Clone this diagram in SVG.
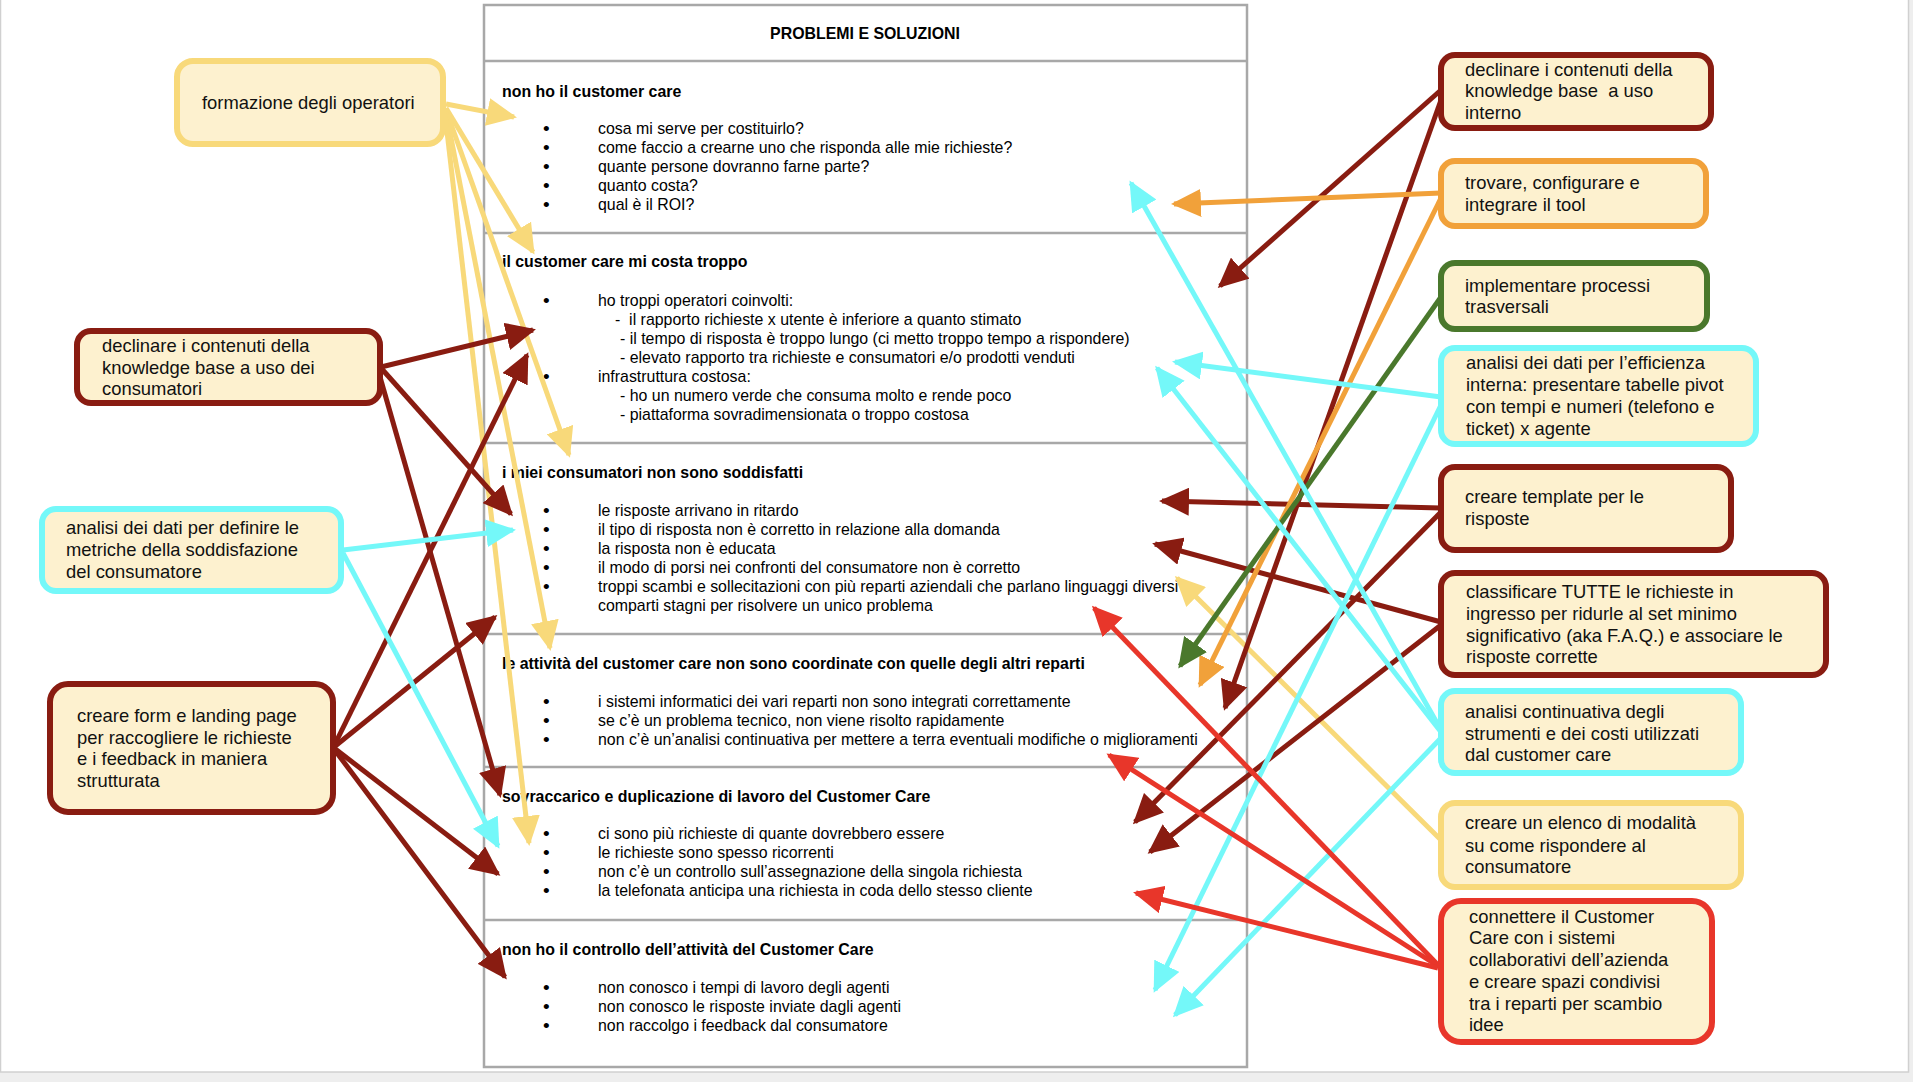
<svg xmlns="http://www.w3.org/2000/svg" width="1913" height="1082" viewBox="0 0 1913 1082">
<style>
.t{font-family:"Liberation Sans",Arial,Helvetica,sans-serif;font-size:15.9px;fill:#000}
.h{font-weight:bold}
.b{font-family:"Liberation Sans",Arial,Helvetica,sans-serif;font-size:19px;fill:#000}
.bt{font-family:"Liberation Sans",Arial,Helvetica,sans-serif;font-size:18.4px;fill:#111}
.box{fill:#fdf1cf;stroke-width:6}
.c{fill:none;stroke-width:5;stroke-linecap:butt}
.y{stroke:#f8d97a;marker-end:url(#mY)}
.dr{stroke:#891c11;marker-end:url(#mDR)}
.cy{stroke:#74f8f9;marker-end:url(#mC)}
.or{stroke:#f1a13a;marker-end:url(#mO)}
.gr{stroke:#4a782c;marker-end:url(#mG)}
.rd{stroke:#e8362a;marker-end:url(#mR)}
.div{stroke:#a8a8a8;stroke-width:2.5}
</style>
<defs>
<marker id="mY" viewBox="0 0 30 28" refX="27" refY="14" markerWidth="30" markerHeight="28" markerUnits="userSpaceOnUse" orient="auto"><path d="M0,0L30,14L0,28z" fill="#f8d97a"/></marker>
<marker id="mDR" viewBox="0 0 30 28" refX="27" refY="14" markerWidth="30" markerHeight="28" markerUnits="userSpaceOnUse" orient="auto"><path d="M0,0L30,14L0,28z" fill="#891c11"/></marker>
<marker id="mC" viewBox="0 0 30 28" refX="27" refY="14" markerWidth="30" markerHeight="28" markerUnits="userSpaceOnUse" orient="auto"><path d="M0,0L30,14L0,28z" fill="#74f8f9"/></marker>
<marker id="mO" viewBox="0 0 30 28" refX="27" refY="14" markerWidth="30" markerHeight="28" markerUnits="userSpaceOnUse" orient="auto"><path d="M0,0L30,14L0,28z" fill="#f1a13a"/></marker>
<marker id="mG" viewBox="0 0 30 28" refX="27" refY="14" markerWidth="30" markerHeight="28" markerUnits="userSpaceOnUse" orient="auto"><path d="M0,0L30,14L0,28z" fill="#4a782c"/></marker>
<marker id="mR" viewBox="0 0 30 28" refX="27" refY="14" markerWidth="30" markerHeight="28" markerUnits="userSpaceOnUse" orient="auto"><path d="M0,0L30,14L0,28z" fill="#e8362a"/></marker>
</defs>

<rect width="1913" height="1082" fill="#eeeeee"/>
<rect x="0.5" y="-2" width="1908" height="1074" fill="#ffffff" stroke="#d0d0d0" stroke-width="1.5"/>

<g id="table">
<rect x="484" y="5" width="763" height="1062" fill="#ffffff" stroke="#a8a8a8" stroke-width="2.5"/>
<line class="div" x1="484" y1="61" x2="1247" y2="61"/>
<line class="div" x1="484" y1="233" x2="1247" y2="233"/>
<line class="div" x1="484" y1="443" x2="1247" y2="443"/>
<line class="div" x1="484" y1="634" x2="1247" y2="634"/>
<line class="div" x1="484" y1="767" x2="1247" y2="767"/>
<line class="div" x1="484" y1="920" x2="1247" y2="920"/>
<text class="t h" x="865" y="39" text-anchor="middle">PROBLEMI E SOLUZIONI</text>

<text class="t h" x="502" y="97">non ho il customer care</text>
<text class="b" x="543" y="135">•</text><text class="t" x="598" y="134">cosa mi serve per costituirlo?</text>
<text class="b" x="543" y="154">•</text><text class="t" x="598" y="153">come faccio a crearne uno che risponda alle mie richieste?</text>
<text class="b" x="543" y="173">•</text><text class="t" x="598" y="172">quante persone dovranno farne parte?</text>
<text class="b" x="543" y="192">•</text><text class="t" x="598" y="191">quanto costa?</text>
<text class="b" x="543" y="211">•</text><text class="t" x="598" y="210">qual è il ROI?</text>

<text class="t h" x="502" y="267">il customer care mi costa troppo</text>
<text class="b" x="543" y="307">•</text><text class="t" x="598" y="306">ho troppi operatori coinvolti:</text>
<text class="t" x="615" y="325" xml:space="preserve">-  il rapporto richieste x utente è inferiore a quanto stimato</text>
<text class="t" x="620" y="344">- il tempo di risposta è troppo lungo (ci metto troppo tempo a rispondere)</text>
<text class="t" x="620" y="363">- elevato rapporto tra richieste e consumatori e/o prodotti venduti</text>
<text class="b" x="543" y="383">•</text><text class="t" x="598" y="382">infrastruttura costosa:</text>
<text class="t" x="620" y="401">- ho un numero verde che consuma molto e rende poco</text>
<text class="t" x="620" y="420">- piattaforma sovradimensionata o troppo costosa</text>

<text class="t h" x="502" y="478">i miei consumatori non sono soddisfatti</text>
<text class="b" x="543" y="517">•</text><text class="t" x="598" y="516">le risposte arrivano in ritardo</text>
<text class="b" x="543" y="536">•</text><text class="t" x="598" y="535">il tipo di risposta non è corretto in relazione alla domanda</text>
<text class="b" x="543" y="555">•</text><text class="t" x="598" y="554">la risposta non è educata</text>
<text class="b" x="543" y="574">•</text><text class="t" x="598" y="573">il modo di porsi nei confronti del consumatore non è corretto</text>
<text class="b" x="543" y="593">•</text><text class="t" x="598" y="592">troppi scambi e sollecitazioni con più reparti aziendali che parlano linguaggi diversi</text>
<text class="t" x="598" y="611">comparti stagni per risolvere un unico problema</text>

<text class="t h" x="502" y="669">le attività del customer care non sono coordinate con quelle degli altri reparti</text>
<text class="b" x="543" y="708">•</text><text class="t" x="598" y="707">i sistemi informatici dei vari reparti non sono integrati correttamente</text>
<text class="b" x="543" y="727">•</text><text class="t" x="598" y="726">se c’è un problema tecnico, non viene risolto rapidamente</text>
<text class="b" x="543" y="746">•</text><text class="t" x="598" y="745">non c’è un’analisi continuativa per mettere a terra eventuali modifiche o miglioramenti</text>

<text class="t h" x="502" y="802">sovraccarico e duplicazione di lavoro del Customer Care</text>
<text class="b" x="543" y="840">•</text><text class="t" x="598" y="839">ci sono più richieste di quante dovrebbero essere</text>
<text class="b" x="543" y="859">•</text><text class="t" x="598" y="858">le richieste sono spesso ricorrenti</text>
<text class="b" x="543" y="878">•</text><text class="t" x="598" y="877">non c’è un controllo sull’assegnazione della singola richiesta</text>
<text class="b" x="543" y="897">•</text><text class="t" x="598" y="896">la telefonata anticipa una richiesta in coda dello stesso cliente</text>

<text class="t h" x="502" y="955">non ho il controllo dell’attività del Customer Care</text>
<text class="b" x="543" y="994">•</text><text class="t" x="598" y="993">non conosco i tempi di lavoro degli agenti</text>
<text class="b" x="543" y="1013">•</text><text class="t" x="598" y="1012">non conosco le risposte inviate dagli agenti</text>
<text class="b" x="543" y="1032">•</text><text class="t" x="598" y="1031">non raccolgo i feedback dal consumatore</text>
</g>

<g id="connectors">
<line class="c y" x1="446" y1="104" x2="514" y2="117"/>
<line class="c y" x1="446" y1="108" x2="533" y2="252"/>
<line class="c y" x1="446" y1="110" x2="569" y2="455"/>
<line class="c y" x1="446" y1="112" x2="550" y2="648"/>
<line class="c y" x1="445" y1="114" x2="529" y2="843"/>
<line class="c y" x1="1441" y1="840" x2="1177" y2="578"/>

<line class="c dr" x1="381" y1="367" x2="533" y2="330"/>
<line class="c dr" x1="381" y1="368" x2="511" y2="514"/>
<line class="c dr" x1="378" y1="370" x2="500" y2="795"/>
<line class="c dr" x1="334" y1="746" x2="527" y2="355"/>
<line class="c dr" x1="334" y1="747" x2="495" y2="617"/>
<line class="c dr" x1="334" y1="748" x2="498" y2="874"/>
<line class="c dr" x1="334" y1="749" x2="505" y2="977"/>
<line class="c dr" x1="1441" y1="90" x2="1220" y2="286"/>
<line class="c dr" x1="1441" y1="100" x2="1225" y2="708"/>
<line class="c dr" x1="1441" y1="508" x2="1162" y2="501"/>
<line class="c dr" x1="1441" y1="512" x2="1135" y2="822"/>
<line class="c dr" x1="1441" y1="622" x2="1155" y2="544"/>
<line class="c dr" x1="1441" y1="625" x2="1150" y2="852"/>

<line class="c or" x1="1441" y1="193" x2="1174" y2="204"/>
<line class="c or" x1="1441" y1="198" x2="1200" y2="685"/>

<line class="c gr" x1="1441" y1="297" x2="1180" y2="666"/>

<line class="c cy" x1="343" y1="550" x2="513" y2="530"/>
<line class="c cy" x1="343" y1="553" x2="498" y2="846"/>
<line class="c cy" x1="1441" y1="397" x2="1175" y2="362"/>
<line class="c cy" x1="1441" y1="405" x2="1155" y2="990"/>
<line class="c cy" x1="1441" y1="730" x2="1131" y2="183"/>
<line class="c cy" x1="1441" y1="732" x2="1157" y2="368"/>
<line class="c cy" x1="1441" y1="738" x2="1175" y2="1015"/>

<line class="c rd" x1="1438" y1="965" x2="1094" y2="608"/>
<line class="c rd" x1="1438" y1="966" x2="1109" y2="755"/>
<line class="c rd" x1="1438" y1="968" x2="1136" y2="893"/>
</g>

<g id="n-formazione">
<rect class="box" x="177" y="61" width="266" height="83" rx="16" stroke="#f8d97a"/>
<text class="bt" x="202" y="109">formazione degli operatori</text>
</g>
<g id="n-kb-consumatori">
<rect class="box" x="77" y="331" width="303" height="72" rx="14" stroke="#891c11"/>
<text class="bt" x="102" y="352">declinare i contenuti della</text>
<text class="bt" x="102" y="373.5">knowledge base a uso dei</text>
<text class="bt" x="102" y="395">consumatori</text>
</g>
<g id="n-metriche">
<rect class="box" x="42" y="509" width="299" height="82" rx="14" stroke="#74f8f9"/>
<text class="bt" x="66" y="534">analisi dei dati per definire le</text>
<text class="bt" x="66" y="556">metriche della soddisfazione</text>
<text class="bt" x="66" y="578">del consumatore</text>
</g>
<g id="n-form">
<rect class="box" x="50" y="684" width="283" height="128" rx="18" stroke="#891c11"/>
<text class="bt" x="77" y="722">creare form e landing page</text>
<text class="bt" x="77" y="744">per raccogliere le richieste</text>
<text class="bt" x="77" y="765">e i feedback in maniera</text>
<text class="bt" x="77" y="787">strutturata</text>
</g>

<g id="n-kb-interno">
<rect class="box" x="1441" y="55" width="270" height="73" rx="14" stroke="#891c11"/>
<text class="bt" x="1465" y="76">declinare i contenuti della</text>
<text class="bt" x="1465" y="97" xml:space="preserve">knowledge base  a uso</text>
<text class="bt" x="1465" y="119">interno</text>
</g>
<g id="n-tool">
<rect class="box" x="1441" y="161" width="265" height="65" rx="14" stroke="#f1a13a"/>
<text class="bt" x="1465" y="189">trovare, configurare e</text>
<text class="bt" x="1465" y="211">integrare il tool</text>
</g>
<g id="n-processi">
<rect class="box" x="1441" y="263" width="266" height="66" rx="14" stroke="#4a782c"/>
<text class="bt" x="1465" y="292">implementare processi</text>
<text class="bt" x="1465" y="313">trasversali</text>
</g>
<g id="n-efficienza">
<rect class="box" x="1441" y="348" width="315" height="96" rx="14" stroke="#74f8f9"/>
<text class="bt" x="1466" y="369">analisi dei dati per l’efficienza</text>
<text class="bt" x="1466" y="391">interna: presentare tabelle pivot</text>
<text class="bt" x="1466" y="413">con tempi e numeri (telefono e</text>
<text class="bt" x="1466" y="435">ticket) x agente</text>
</g>
<g id="n-template">
<rect class="box" x="1441" y="467" width="290" height="83" rx="14" stroke="#891c11"/>
<text class="bt" x="1465" y="503">creare template per le</text>
<text class="bt" x="1465" y="525">risposte</text>
</g>
<g id="n-classificare">
<rect class="box" x="1441" y="573" width="385" height="102" rx="14" stroke="#891c11"/>
<text class="bt" x="1466" y="598">classificare TUTTE le richieste in</text>
<text class="bt" x="1466" y="620">ingresso per ridurle al set minimo</text>
<text class="bt" x="1466" y="642">significativo (aka F.A.Q.) e associare le</text>
<text class="bt" x="1466" y="663">risposte corrette</text>
</g>
<g id="n-strumenti">
<rect class="box" x="1441" y="691" width="300" height="82" rx="14" stroke="#74f8f9"/>
<text class="bt" x="1465" y="718">analisi continuativa degli</text>
<text class="bt" x="1465" y="740">strumenti e dei costi utilizzati</text>
<text class="bt" x="1465" y="761">dal customer care</text>
</g>
<g id="n-modalita">
<rect class="box" x="1441" y="803" width="300" height="84" rx="14" stroke="#f8d97a"/>
<text class="bt" x="1465" y="829">creare un elenco di modalità</text>
<text class="bt" x="1465" y="852">su come rispondere al</text>
<text class="bt" x="1465" y="873">consumatore</text>
</g>
<g id="n-connettere">
<rect class="box" x="1441" y="901" width="271" height="141" rx="20" stroke="#e8362a" stroke-width="7"/>
<text class="bt" x="1469" y="923">connettere il Customer</text>
<text class="bt" x="1469" y="944">Care con i sistemi</text>
<text class="bt" x="1469" y="966">collaborativi dell’azienda</text>
<text class="bt" x="1469" y="988">e creare spazi condivisi</text>
<text class="bt" x="1469" y="1010">tra i reparti per scambio</text>
<text class="bt" x="1469" y="1031">idee</text>
</g>
</svg>
